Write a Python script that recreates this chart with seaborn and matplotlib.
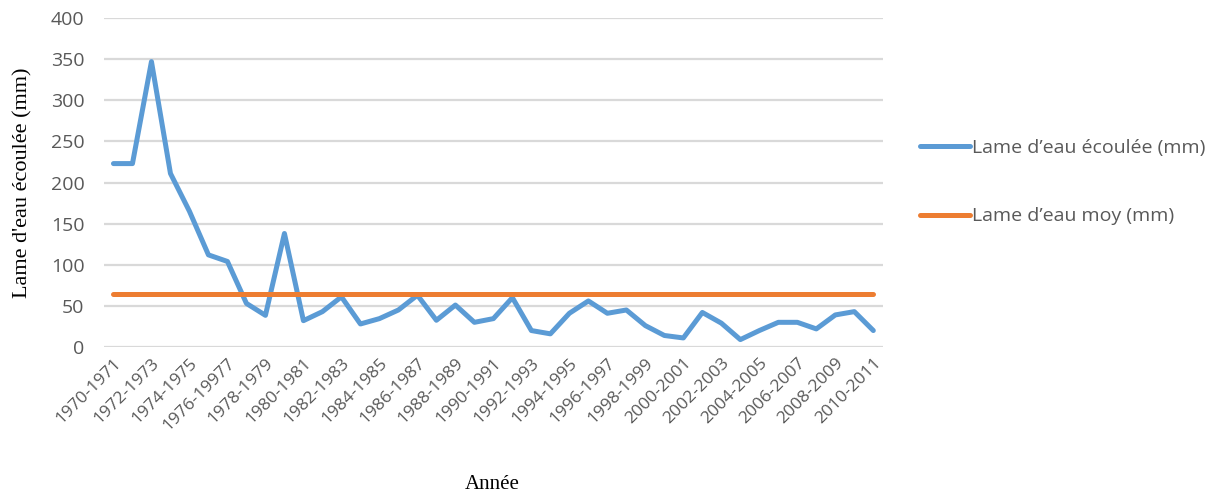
import numpy as np
import pandas as pd
import matplotlib
matplotlib.use("Agg")
from matplotlib import pyplot as plt
import seaborn as sns

# hydrological years 1970-1971 .. 2010-2011
annees = ["%d-%d" % (y, y + 1) for y in range(1970, 2011)]
annees[6] = "1976-19977"  # as written in the source chart

lame_ecoulee = [223, 223, 347, 211, 165, 112, 104, 53, 38.5, 138,
                32, 43, 61, 28, 34.5, 45, 63, 32.5, 51, 30,
                34.5, 60, 20, 16, 41, 56, 41, 45, 26, 14,
                11, 42, 29, 9, 20, 30, 30, 22, 39, 43, 20]
lame_moy = [65] * len(annees)

blue = "#5B9BD5"
orange = "#ED7D31"

df = pd.DataFrame({
    "annee": annees,
    "Lame d\u2019eau écoulée (mm)": lame_ecoulee,
    "Lame d\u2019eau moy (mm)": lame_moy,
})
long = df.melt(id_vars="annee", var_name="serie", value_name="mm")

sns.set_style("white")
plt.rcParams["font.family"] = ["Open Sans", "DejaVu Sans"]

fig = plt.figure(figsize=(12.16, 4.95), dpi=100)
ax = fig.add_axes([0.0855, 0.299, 0.6405, 0.6646])

sns.lineplot(data=long, x="annee", y="mm", hue="serie",
             palette=[blue, orange], lw=3.6, ax=ax, legend=False,
             sort=False)
for ln in ax.get_lines():
    ln.set_solid_capstyle("round")
    ln.set_solid_joinstyle("round")

ax.set_ylim(0, 400)
ax.set_xlim(-0.5, len(annees) - 0.5)
ax.set_yticks(np.arange(0, 401, 50))
ax.yaxis.grid(True, color="#D9D9D9", lw=1.6)
ax.set_axisbelow(True)
for s in ax.spines.values():
    s.set_visible(False)
ax.tick_params(axis="both", length=0, colors="#595959", labelsize=14)
ax.tick_params(axis="y", pad=14)
ax.tick_params(axis="x", pad=6)

idx = list(range(0, len(annees), 2))
ax.set_xticks(idx)
ax.set_xticklabels([annees[i] for i in idx], rotation=45, ha="right",
                   rotation_mode="anchor", fontsize=12.5)

ax.set_xlabel("Année", family="Liberation Serif", fontsize=15, color="black")
ax.xaxis.set_label_coords(0.498, -0.39)
ax.set_ylabel("Lame d'eau écoulée (mm)", family="Liberation Serif",
              fontsize=16, color="black")
ax.yaxis.set_label_coords(-0.092, 0.5)

handles = [plt.Line2D([], [], color=blue, lw=3.6, solid_capstyle="round"),
           plt.Line2D([], [], color=orange, lw=3.6, solid_capstyle="round")]
fig.legend(handles, ["Lame d\u2019eau écoulée (mm)", "Lame d\u2019eau moy (mm)"],
           loc="upper left", bbox_to_anchor=(0.742, 0.755), frameon=False,
           fontsize=14, handlelength=2.6, handletextpad=0.1,
           labelspacing=2.6, labelcolor="#595959")

fig.savefig("out.png", dpi=100)
